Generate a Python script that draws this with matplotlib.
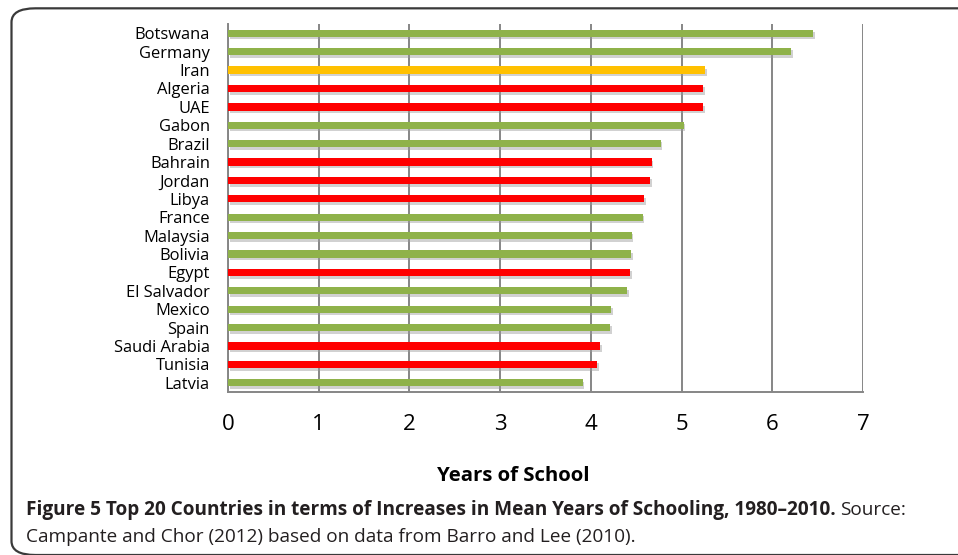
import matplotlib
import matplotlib.pyplot as plt
import matplotlib.patheffects as pe
from matplotlib.patches import FancyBboxPatch

countries = ["Botswana", "Germany", "Iran", "Algeria", "UAE", "Gabon", "Brazil",
             "Bahrain", "Jordan", "Libya", "France", "Malaysia", "Bolivia", "Egypt",
             "El Salvador", "Mexico", "Spain", "Saudi Arabia", "Tunisia", "Latvia"]
years = [6.45, 6.21, 5.26, 5.24, 5.24, 5.02, 4.77, 4.67, 4.65, 4.59, 4.57, 4.45,
         4.44, 4.43, 4.40, 4.22, 4.21, 4.10, 4.07, 3.91]
group = ["other", "other", "iran", "arab", "arab", "other", "other", "arab", "arab",
         "arab", "other", "other", "other", "arab", "other", "other", "other", "arab",
         "arab", "other"]
xticks = [0, 1, 2, 3, 4, 5, 6, 7]

palette = {"other": "#8fb24a", "arab": "#ff0000", "iran": "#ffc000"}

plt.rcParams["font.family"] = ["Open Sans", "DejaVu Sans"]

fig = plt.figure(figsize=(9.58, 5.55), dpi=100)
ax = fig.add_axes([0.238, 0.2937, 0.663, 0.663])

ypos = list(range(len(countries)))
bars = ax.barh(ypos, years, height=0.4, color=[palette[g] for g in group], zorder=3)
for b in bars:
    b.set_path_effects([pe.SimplePatchShadow(offset=(1.2, -1.8), shadow_rgbFace="0.6", alpha=0.45),
                        pe.Normal()])

ax.set_ylim(len(countries) - 0.5, -0.5)
ax.set_xlim(0, 7)
ax.set_yticks(ypos)
ax.set_yticklabels(countries, fontsize=11.9, ha="right")
ax.set_xticks(xticks)
ax.set_xticklabels([str(t) for t in xticks], fontsize=16)
ax.tick_params(axis="y", length=0, pad=13)
ax.tick_params(axis="x", length=0, pad=16)
ax.grid(axis="x", color="#868686", linewidth=1.4, zorder=0)
ax.set_axisbelow(True)
for s in ("top", "right"):
    ax.spines[s].set_visible(False)
for s in ("left", "bottom"):
    ax.spines[s].set_color("#868686")
    ax.spines[s].set_linewidth(1.4)

# axis title sits a little left of the plot centre in the original
fig.text(0.536, 0.1423, "Years of School", fontsize=14.7, fontweight="bold",
         ha="center", va="center")

cap_size = 13.7
t1 = fig.text(0.027, 0.081, "Figure 5 Top 20 Countries in terms of Increases in Mean Years of Schooling, 1980\u20132010.",
              fontsize=cap_size, fontweight="bold", color="#231f20", va="center")
fig.text(0.027, 0.032, "Campante and Chor (2012) based on data from Barro and Lee (2010).",
         fontsize=cap_size, color="#231f20", va="center")

fig.canvas.draw()
bb = t1.get_window_extent(fig.canvas.get_renderer())
fig.text(bb.x1 / fig.bbox.width + 0.005, 0.081, "Source:", fontsize=cap_size,
         color="#231f20", va="center")

box = FancyBboxPatch((0.012, 0.0), 1.2, 0.985, boxstyle="round,pad=0,rounding_size=0.025",
                     transform=fig.transFigure, fill=False, edgecolor="#3a3a3a",
                     linewidth=1.6, zorder=0)
fig.patches.append(box)

fig.savefig("out.png", dpi=100)
